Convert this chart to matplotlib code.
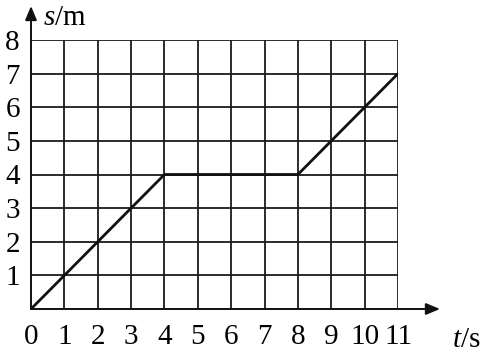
import matplotlib
matplotlib.use("Agg")
import matplotlib.pyplot as plt

# Data
t_vals = [0, 4, 8, 11]
s_vals = [0, 4, 4, 7]
x_ticks = list(range(0, 12))
y_ticks = list(range(1, 9))
x_label = "t"
x_unit = "s"
y_label = "s"
y_unit = "m"

plt.rcParams['mathtext.fontset'] = 'custom'
plt.rcParams['mathtext.rm'] = 'Liberation Serif'
plt.rcParams['mathtext.it'] = 'Liberation Serif:italic'
plt.rcParams['font.family'] = 'Liberation Serif'

FS = 21
W, H = 486, 353
fig = plt.figure(figsize=(W/100, H/100), dpi=100)
x0, y0 = 31, 309
x11, y8 = 398, 40
ax = fig.add_axes([x0/W, (H-y0)/H, (x11-x0)/W, (y0-y8)/H])
ax.set_xlim(0, 11)
ax.set_ylim(0, 8)

for x in x_ticks[1:]:
    ax.axvline(x, color='#1a1a1a', lw=1.3, zorder=1)
for y in y_ticks:
    ax.axhline(y, color='#1a1a1a', lw=1.3, zorder=1)

ax.plot(t_vals, s_vals, color='#111111', lw=2.0, zorder=3, solid_capstyle='round')

for sp in ax.spines.values():
    sp.set_visible(False)

ax.set_xticks(x_ticks)
ax.set_xticklabels([str(v) for v in x_ticks], fontsize=FS)
ax.set_yticks(y_ticks)
ax.set_yticklabels([str(v) for v in y_ticks], fontsize=FS)
ax.tick_params(axis='x', length=0, pad=11)
ax.tick_params(axis='y', length=0, pad=8)

# axes arrows
xtip = (440 - x0) / ((x11 - x0) / 11)
ytip = (y0 - 6) / ((y0 - y8) / 8)
ax.annotate('', xy=(xtip, 0), xytext=(0, 0), xycoords='data',
            arrowprops=dict(arrowstyle='-|>,head_length=0.6,head_width=0.25',
                            color='#111111', lw=1.4,
                            mutation_scale=14, shrinkA=0, shrinkB=0),
            annotation_clip=False, zorder=4)
ax.annotate('', xy=(0, ytip), xytext=(0, 0), xycoords='data',
            arrowprops=dict(arrowstyle='-|>,head_length=0.6,head_width=0.25',
                            color='#111111', lw=1.4,
                            mutation_scale=14, shrinkA=0, shrinkB=0),
            annotation_clip=False, zorder=4)

fig.text(43/W, 1 - 18/H, r"$\mathit{%s}$/%s" % (y_label, y_unit), fontsize=FS,
         ha='left', va='center')
fig.text(452/W, 1 - 340/H, r"$\mathit{%s}$/%s" % (x_label, x_unit), fontsize=FS,
         ha='left', va='center')

fig.savefig("out.png", dpi=100)
